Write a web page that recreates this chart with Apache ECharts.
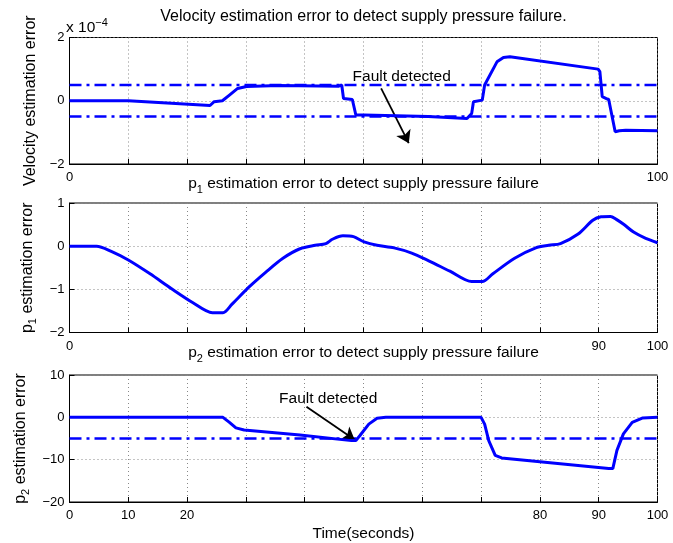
<!DOCTYPE html>
<html>
<head>
<meta charset="utf-8">
<script src="https://cdn.jsdelivr.net/npm/echarts@6/dist/echarts.min.js"></script>
<style>
html, body { margin: 0; padding: 0; background: #fff; }
#chart { width: 673px; height: 543px; }
</style>
</head>
<body>
<div id="chart"></div>
<script>
// velocity error (x 1e-4)
var velT = [0, 10, 23.9, 24.6, 26, 27.2, 28.6, 30.1, 35.6, 45.8, 46.3, 46.6, 48.1, 48.7, 50.1, 61, 67.6, 68.4, 68.7, 70.2, 70.6, 72.7, 73.8, 74.9, 89.9, 90.2, 90.6, 91.3, 91.7, 92.8, 93.5, 94.6, 100];
var velV = [0, 0, -0.15, -0.03, 0, 0.18, 0.39, 0.45, 0.48, 0.46, 0.5, 0.07, 0.04, -0.45, -0.45, -0.5, -0.56, -0.4, -0.03, 0.02, 0.5, 1.23, 1.37, 1.39, 1.0, 0.92, 0.13, 0.07, 0.04, -0.98, -0.95, -0.93, -0.95];
var velThresh = [0.5, -0.5];

// p1 error
var p1T = [0, 4.6, 7.1, 10, 13.7, 17.3, 21, 24.3, 26.1, 27.6, 30.5, 33.4, 36.3, 39.2, 41.8, 43.6, 44.7, 46.5, 48.3, 50.1, 52.3, 55.2, 58.2, 61.1, 64.7, 68.4, 70.2, 72, 75.7, 79.3, 81.5, 83.5, 86.5, 89, 90.4, 92, 93, 94.3, 96, 98, 100];
var p1V = [0, 0, -0.12, -0.32, -0.64, -0.98, -1.31, -1.54, -1.54, -1.35, -0.95, -0.6, -0.28, -0.06, 0.02, 0.06, 0.16, 0.24, 0.22, 0.1, 0.02, -0.04, -0.16, -0.34, -0.58, -0.82, -0.82, -0.64, -0.28, -0.04, 0.02, 0.06, 0.28, 0.6, 0.68, 0.69, 0.62, 0.5, 0.32, 0.18, 0.08];

// p2 error
var p2T = [0, 26.1, 27.2, 28.3, 29.7, 39.2, 47.96, 48.7, 49.4, 50.9, 52.3, 53.8, 70, 70.6, 71.3, 72.4, 73.5, 91.7, 92.4, 93.1, 94.2, 95.7, 97.5, 100];
var p2V = [0, 0, -1.2, -2.5, -3.0, -4.15, -5.5, -5.5, -4.3, -1.6, -0.2, 0, 0, -1.6, -5.5, -9, -9.6, -12.1, -12.1, -7.8, -3.9, -1.2, -0.15, 0];
var p2Thresh = [-5];

// x tick labels shown in each panel
var velXLabels = [0, 100];
var p1XLabels = [0, 90, 100];
var p2XLabels = [0, 10, 20, 80, 90, 100];

// annotations (data coords)
var velArrow = [[53, 0.39], [57.7, -1.34]];
var velNote = [56.5, 0.76];
var p2Arrow = [[40.3, 2.5], [48.5, -5.3]];
var p2Note = [44, 4.5];

var FONT = '"Liberation Sans", Arial, sans-serif';
var BLUE = '#0000ff';

function zip(a, b) {
    return a.map(function(v, i) { return [v, b[i]]; });
}
function minus(v) {
    return String(v).replace('-', '\u2212');
}
function xAxisFor(idx, shown) {
    return {
        type: 'value', gridIndex: idx, min: 0, max: 100, interval: 10,
        axisLine: { show: true, onZero: false, lineStyle: { color: '#000', width: 1 } },
        axisTick: { show: true, inside: true, length: 5, lineStyle: { color: '#000' } },
        axisLabel: {
            margin: 7, color: '#000', fontSize: 13, fontFamily: FONT,
            formatter: function(v) { return shown.indexOf(v) >= 0 ? String(v) : ''; }
        },
        splitLine: { show: true, lineStyle: { color: '#888', type: [1, 3], width: 1 } }
    };
}
function yAxisFor(idx, min, max, interval, name) {
    return {
        type: 'value', gridIndex: idx, min: min, max: max, interval: interval,
        name: name, nameLocation: 'middle', nameRotate: 90, nameGap: 23,
        nameTextStyle: {
            color: '#000', fontFamily: FONT, fontSize: 16,
            rich: {
                n: { fontSize: 16, fontFamily: FONT, color: '#000', lineHeight: 22 },
                s: { fontSize: 11, fontFamily: FONT, color: '#000', verticalAlign: 'bottom', lineHeight: 11 }
            }
        },
        axisLine: { show: true, onZero: false, lineStyle: { color: '#000', width: 1 } },
        axisTick: { show: true, inside: true, length: 5, lineStyle: { color: '#000' } },
        axisLabel: {
            margin: 5, color: '#000', fontSize: 13, fontFamily: FONT,
            formatter: function(v) { return minus(v); }
        },
        splitLine: { show: true, lineStyle: { color: '#888', type: [1, 3], width: 1 } }
    };
}
function curve(idx, t, v, smooth) {
    return {
        type: 'line', xAxisIndex: idx, yAxisIndex: idx, data: zip(t, v),
        showSymbol: false, symbol: 'none', silent: true, smooth: smooth || false,
        lineStyle: { color: BLUE, width: 3 }, z: 5
    };
}
function thresh(idx, level) {
    return {
        type: 'line', xAxisIndex: idx, yAxisIndex: idx, data: [[0, level], [100, level]],
        showSymbol: false, symbol: 'none', silent: true,
        lineStyle: { color: BLUE, width: 2.5, type: [12, 5, 3, 5] }, z: 4
    };
}
function note(idx, arrow, pos) {
    return {
        type: 'line', xAxisIndex: idx, yAxisIndex: idx, data: [], silent: true,
        markLine: {
            silent: true, symbol: ['none', 'arrow'], symbolSize: 12,
            lineStyle: { color: '#000', width: 1.8, type: 'solid' },
            label: { show: false },
            data: [[{ coord: arrow[0] }, { coord: arrow[1] }]]
        },
        markPoint: {
            silent: true, symbol: 'circle', symbolSize: 1,
            itemStyle: { color: 'rgba(0,0,0,0)' },
            label: { show: true, position: 'inside', formatter: 'Fault detected', color: '#000', fontSize: 15.5, fontFamily: FONT },
            data: [{ coord: pos }]
        },
        z: 6
    };
}

var titleRich = {
    n: { fontSize: 15.5, fontFamily: FONT, color: '#000', lineHeight: 22 },
    s: { fontSize: 11, fontFamily: FONT, color: '#000', verticalAlign: 'bottom', lineHeight: 11 },
    sup: { fontSize: 11, fontFamily: FONT, color: '#000', verticalAlign: 'top', lineHeight: 11 }
};
function titleAt(text, left, top, align, size) {
    var rich = titleRich;
    if (size) {
        rich = JSON.parse(JSON.stringify(titleRich));
        rich.n.fontSize = size;
    }
    return {
        text: text, left: left, top: top, padding: 0, textAlign: align || 'center',
        textStyle: { fontWeight: 'normal', fontSize: 15.5, fontFamily: FONT, color: '#000', rich: rich }
    };
}

var chart = echarts.init(document.getElementById('chart'));
var grids = [
    { left: 69.5, width: 588, top: 37.5, height: 126.5 },
    { left: 69.5, width: 588, top: 203, height: 129.5 },
    { left: 69.5, width: 588, top: 375, height: 127 }
];
grids.forEach(function(g) {
    g.show = true; g.borderColor = '#000'; g.borderWidth = 1; g.backgroundColor = '#fff';
});

chart.setOption({
    animation: false,
    backgroundColor: '#fff',
    title: [
        titleAt('{n|Velocity estimation error to detect supply pressure failure.}', 363.5, 6, 'center', 16),
        titleAt('{n|x 10}{sup|\u22124}', 66, 17, 'left'),
        titleAt('{n|p}{s|1}{n| estimation error to detect supply pressure failure}', 363.5, 173),
        titleAt('{n|p}{s|2}{n| estimation error to detect supply pressure failure}', 363.5, 342),
        titleAt('{n|Time(seconds)}', 363.5, 523)
    ],
    grid: grids,
    xAxis: [xAxisFor(0, velXLabels), xAxisFor(1, p1XLabels), xAxisFor(2, p2XLabels)],
    yAxis: [
        yAxisFor(0, -2, 2, 2, '{n|Velocity estimation error}'),
        yAxisFor(1, -2, 1, 1, '{n|p}{s|1}{n| estimation error}'),
        yAxisFor(2, -20, 10, 10, '{n|p}{s|2}{n| estimation error}')
    ],
    series: [
        thresh(0, velThresh[0]),
        thresh(0, velThresh[1]),
        curve(0, velT, velV),
        note(0, velArrow, velNote),
        curve(1, p1T, p1V, 0.3),
        thresh(2, p2Thresh[0]),
        curve(2, p2T, p2V),
        note(2, p2Arrow, p2Note)
    ]
});
</script>
</body>
</html>
